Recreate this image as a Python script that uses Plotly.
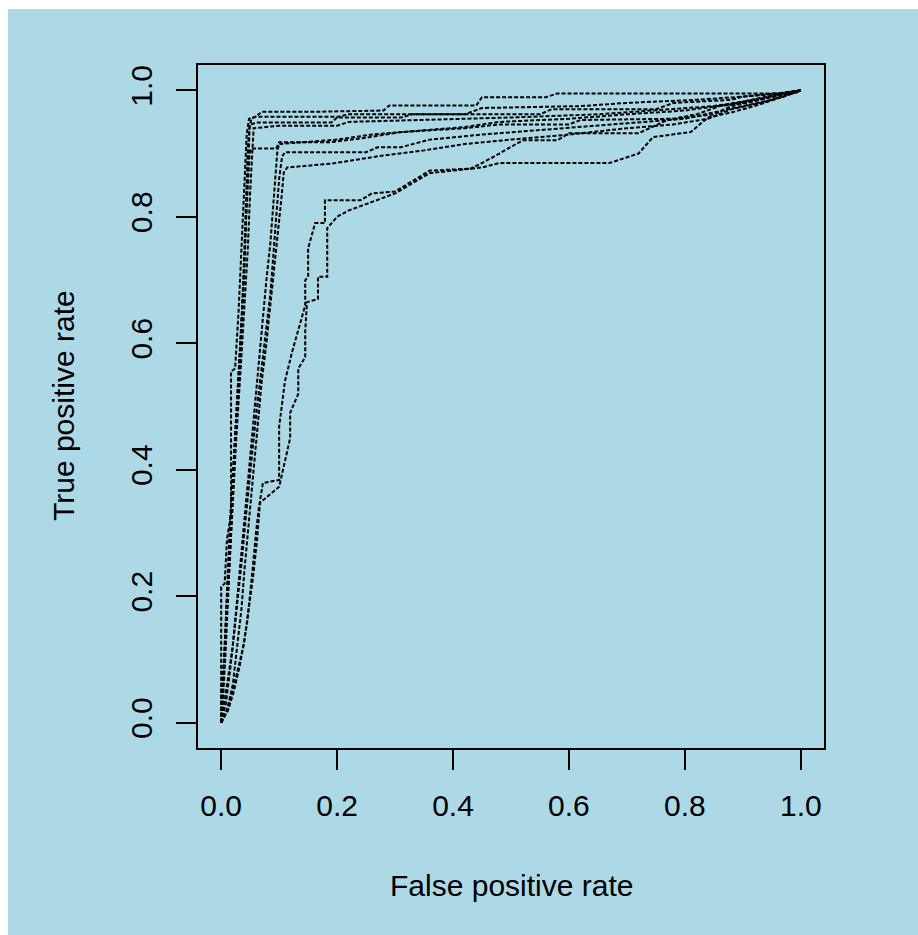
import plotly.graph_objects as go

# ---- data: 10 cross-validation ROC curves (FPR, TPR) ----
c1_fpr = [0, 0.0, 0.005, 0.008, 0.012, 0.016, 0.022, 0.028, 0.035, 0.04, 0.044, 0.047, 0.049, 0.052, 0.062, 0.07, 0.16, 0.28, 0.29, 0.44, 0.45, 0.56, 0.58, 0.99, 1.0]
c1_tpr = [0, 0.05, 0.10, 0.17, 0.25, 0.33, 0.42, 0.52, 0.62, 0.72, 0.82, 0.90, 0.94, 0.955, 0.96, 0.966, 0.966, 0.968, 0.976, 0.976, 0.989, 0.989, 0.995, 0.995, 1.0]

c2_fpr = [0, 0.003, 0.006, 0.01, 0.014, 0.018, 0.024, 0.03, 0.036, 0.04, 0.043, 0.046, 0.049, 0.06, 0.19, 0.2, 0.31, 0.33, 0.55, 0.57, 0.75, 0.78, 0.88, 0.9, 0.96, 1.0]
c2_tpr = [0, 0.06, 0.13, 0.20, 0.28, 0.36, 0.45, 0.55, 0.65, 0.75, 0.84, 0.91, 0.945, 0.949, 0.949, 0.957, 0.957, 0.962, 0.962, 0.97, 0.97, 0.98, 0.985, 0.99, 0.995, 1.0]

c3_fpr = [0, 0.004, 0.008, 0.012, 0.016, 0.022, 0.028, 0.034, 0.039, 0.043, 0.046, 0.049, 0.052, 0.095, 0.1, 0.19, 0.25, 0.31, 0.42, 0.48, 0.6, 0.62, 0.78, 0.82, 0.86, 0.9, 0.95, 1.0]
c3_tpr = [0, 0.05, 0.12, 0.20, 0.30, 0.40, 0.50, 0.60, 0.70, 0.80, 0.86, 0.90, 0.908, 0.908, 0.918, 0.918, 0.925, 0.934, 0.94, 0.946, 0.946, 0.953, 0.955, 0.962, 0.975, 0.98, 0.99, 1.0]

c4_fpr = [0, 0.0, 0.0, 0.006, 0.01, 0.017, 0.017, 0.024, 0.03, 0.035, 0.04, 0.044, 0.048, 0.06, 0.2, 0.22, 0.42, 0.45, 0.62, 0.7, 0.82, 0.9, 0.96, 1.0]
c4_tpr = [0, 0.10, 0.215, 0.22, 0.29, 0.33, 0.555, 0.56, 0.65, 0.75, 0.85, 0.93, 0.955, 0.958, 0.958, 0.962, 0.962, 0.972, 0.975, 0.98, 0.985, 0.99, 0.995, 1.0]

c5_fpr = [0, 0.002, 0.006, 0.01, 0.015, 0.02, 0.026, 0.033, 0.04, 0.046, 0.05, 0.053, 0.056, 0.1, 0.2, 0.22, 0.35, 0.5, 0.65, 0.75, 0.85, 0.92, 0.97, 1.0]
c5_tpr = [0, 0.04, 0.10, 0.18, 0.26, 0.35, 0.45, 0.55, 0.65, 0.75, 0.84, 0.90, 0.94, 0.944, 0.944, 0.95, 0.953, 0.957, 0.962, 0.968, 0.975, 0.985, 0.993, 1.0]

c6_fpr = [0, 0.008, 0.015, 0.022, 0.03, 0.036, 0.042, 0.048, 0.055, 0.062, 0.07, 0.078, 0.085, 0.09, 0.095, 0.1, 0.105, 0.11, 0.25, 0.27, 0.31, 0.36, 0.45, 0.55, 0.65, 0.72, 0.8, 0.85, 0.9, 0.95, 1.0]
c6_tpr = [0, 0.03, 0.08, 0.14, 0.20, 0.26, 0.32, 0.38, 0.44, 0.50, 0.56, 0.62, 0.68, 0.74, 0.80, 0.86, 0.895, 0.902, 0.902, 0.91, 0.91, 0.922, 0.93, 0.937, 0.945, 0.95, 0.955, 0.965, 0.975, 0.985, 1.0]

c7_fpr = [0, 0.01, 0.02, 0.028, 0.035, 0.04, 0.046, 0.052, 0.058, 0.064, 0.07, 0.078, 0.085, 0.092, 0.098, 0.104, 0.108, 0.114, 0.19, 0.28, 0.35, 0.42, 0.5, 0.6, 0.7, 0.78, 0.84, 0.88, 0.93, 0.97, 1.0]
c7_tpr = [0, 0.02, 0.06, 0.12, 0.18, 0.24, 0.30, 0.36, 0.42, 0.48, 0.54, 0.60, 0.66, 0.72, 0.78, 0.83, 0.87, 0.878, 0.884, 0.897, 0.905, 0.915, 0.922, 0.93, 0.94, 0.946, 0.955, 0.97, 0.98, 0.99, 1.0]

c8_fpr = [0, 0.005, 0.012, 0.02, 0.026, 0.032, 0.038, 0.045, 0.05, 0.056, 0.062, 0.07, 0.078, 0.085, 0.09, 0.095, 0.097, 0.1, 0.14, 0.2, 0.26, 0.35, 0.42, 0.48, 0.6, 0.7, 0.8, 0.88, 0.94, 1.0]
c8_tpr = [0, 0.03, 0.07, 0.12, 0.18, 0.24, 0.30, 0.37, 0.43, 0.49, 0.55, 0.62, 0.70, 0.76, 0.82, 0.88, 0.905, 0.915, 0.918, 0.922, 0.93, 0.937, 0.942, 0.95, 0.955, 0.962, 0.968, 0.978, 0.99, 1.0]

c9_fpr = [0, 0.01, 0.02, 0.03, 0.038, 0.045, 0.05, 0.055, 0.06, 0.065, 0.072, 0.1, 0.1, 0.11, 0.122, 0.145, 0.145, 0.15, 0.15, 0.162, 0.179, 0.179, 0.24, 0.26, 0.3, 0.36, 0.43, 0.45, 0.48, 0.52, 0.58, 0.6, 0.72, 0.77, 0.85, 0.88, 0.93, 1.0]
c9_tpr = [0, 0.02, 0.05, 0.09, 0.12, 0.16, 0.20, 0.25, 0.30, 0.34, 0.379, 0.384, 0.468, 0.54, 0.585, 0.66, 0.70, 0.705, 0.75, 0.79, 0.79, 0.826, 0.826, 0.837, 0.84, 0.873, 0.876, 0.885, 0.90, 0.921, 0.921, 0.932, 0.932, 0.953, 0.962, 0.975, 0.985, 1.0]

c10_fpr = [0, 0.012, 0.022, 0.032, 0.04, 0.048, 0.055, 0.062, 0.067, 0.1, 0.119, 0.119, 0.133, 0.133, 0.145, 0.145, 0.148, 0.167, 0.167, 0.183, 0.183, 0.2, 0.22, 0.25, 0.3, 0.36, 0.45, 0.48, 0.67, 0.72, 0.745, 0.81, 0.84, 0.88, 0.92, 0.97, 1.0]
c10_tpr = [0, 0.02, 0.05, 0.09, 0.13, 0.18, 0.23, 0.29, 0.348, 0.373, 0.45, 0.49, 0.52, 0.56, 0.578, 0.62, 0.665, 0.67, 0.705, 0.705, 0.782, 0.80, 0.81, 0.82, 0.837, 0.869, 0.878, 0.885, 0.885, 0.90, 0.926, 0.934, 0.957, 0.965, 0.975, 0.99, 1.0]

curves_fpr = [c1_fpr, c2_fpr, c3_fpr, c4_fpr, c5_fpr, c6_fpr, c7_fpr, c8_fpr, c9_fpr, c10_fpr]
curves_tpr = [c1_tpr, c2_tpr, c3_tpr, c4_tpr, c5_tpr, c6_tpr, c7_tpr, c8_tpr, c9_tpr, c10_tpr]

tick_vals = [0.0, 0.2, 0.4, 0.6, 0.8, 1.0]
tick_text = ["0.0", "0.2", "0.4", "0.6", "0.8", "1.0"]

x_label = "False positive rate"
y_label = "True positive rate"

# ---- figure ----
W, H = 918, 935
ML, MR, MT, MB = 198, 94, 65, 187
PW, PH = W - ML - MR, H - MT - MB

def px_x(px):
    return (px - ML) / PW

def px_y(py):
    return (H - MB - py) / PH

BG = "#ADD8E6"
FONT = "Liberation Sans, Arial, Helvetica, sans-serif"

fig = go.Figure()
for fx, ty in zip(curves_fpr, curves_tpr):
    fig.add_trace(go.Scatter(
        x=fx, y=ty, mode="lines",
        line=dict(color="black", width=2, dash="4px,2px"),
        showlegend=False, hoverinfo="skip",
    ))

axis_common = dict(
    range=[-0.04, 1.04],
    tickvals=tick_vals, ticktext=tick_text,
    ticks="outside", ticklen=20, tickwidth=2, tickcolor="black",
    showline=True, mirror=True, linecolor="black", linewidth=2,
    showgrid=False, zeroline=False,
    tickfont=dict(family=FONT, size=30, color="black"),
    fixedrange=True,
)

fig.update_layout(
    width=W, height=H,
    margin=dict(l=ML, r=MR, t=MT, b=MB, pad=0, autoexpand=False),
    paper_bgcolor=BG, plot_bgcolor=BG,
    xaxis=dict(**axis_common, ticklabelstandoff=10),
    yaxis=dict(**axis_common, tickangle=-90, ticklabelstandoff=12),
    annotations=[
        dict(text=x_label, xref="paper", yref="paper",
             x=px_x(511), y=px_y(885), xanchor="center", yanchor="middle",
             showarrow=False, font=dict(family=FONT, size=30, color="black")),
        dict(text=y_label, xref="paper", yref="paper",
             x=px_x(63), y=px_y(406), xanchor="center", yanchor="middle",
             textangle=-90, showarrow=False,
             font=dict(family=FONT, size=30, color="black")),
    ],
    shapes=[
        dict(type="rect", xref="paper", yref="paper", layer="above",
             x0=px_x(0), x1=px_x(8), y0=px_y(H), y1=px_y(0),
             fillcolor="white", line=dict(width=0)),
        dict(type="rect", xref="paper", yref="paper", layer="above",
             x0=px_x(0), x1=px_x(W), y0=px_y(9), y1=px_y(0),
             fillcolor="white", line=dict(width=0)),
    ],
)

fig.write_html("out.html")
